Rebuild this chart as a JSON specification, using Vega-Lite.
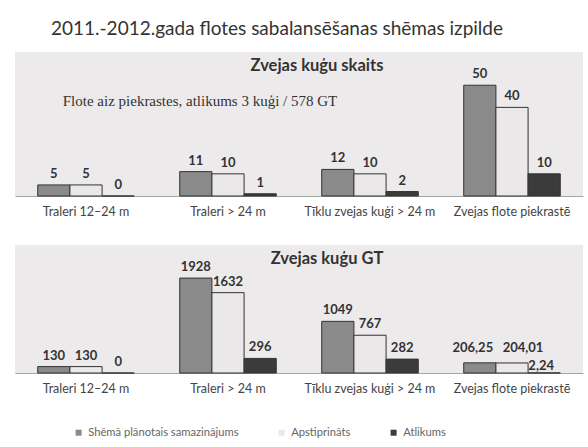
{
  "$schema": "https://vega.github.io/schema/vega-lite/v6.json",
  "background": "white",
  "padding": {"left": 15, "right": 5, "top": 20, "bottom": 5},
  "title": {"text": "2011.-2012.gada flotes sabalansēšanas shēmas izpilde", "fontSize": 19, "font": "Lato", "fontWeight": "normal", "color": "#333333", "offset": 13, "anchor": "middle", "dx": -22},
  "datasets": {
    "skaits": [
      {"cat": "Traleri 12–24 m", "series": "Shēmā plānotais samazinājums", "v": 5},
      {"cat": "Traleri 12–24 m", "series": "Apstiprināts", "v": 5},
      {"cat": "Traleri 12–24 m", "series": "Atlikums", "v": 0},
      {"cat": "Traleri > 24 m", "series": "Shēmā plānotais samazinājums", "v": 11},
      {"cat": "Traleri > 24 m", "series": "Apstiprināts", "v": 10},
      {"cat": "Traleri > 24 m", "series": "Atlikums", "v": 1},
      {"cat": "Tīklu zvejas kuģi > 24 m", "series": "Shēmā plānotais samazinājums", "v": 12},
      {"cat": "Tīklu zvejas kuģi > 24 m", "series": "Apstiprināts", "v": 10},
      {"cat": "Tīklu zvejas kuģi > 24 m", "series": "Atlikums", "v": 2},
      {"cat": "Zvejas flote piekrastē", "series": "Shēmā plānotais samazinājums", "v": 50},
      {"cat": "Zvejas flote piekrastē", "series": "Apstiprināts", "v": 40},
      {"cat": "Zvejas flote piekrastē", "series": "Atlikums", "v": 10}
    ],
    "gt": [
      {"cat": "Traleri 12–24 m", "series": "Shēmā plānotais samazinājums", "v": 130},
      {"cat": "Traleri 12–24 m", "series": "Apstiprināts", "v": 130},
      {"cat": "Traleri 12–24 m", "series": "Atlikums", "v": 0},
      {"cat": "Traleri > 24 m", "series": "Shēmā plānotais samazinājums", "v": 1928},
      {"cat": "Traleri > 24 m", "series": "Apstiprināts", "v": 1632},
      {"cat": "Traleri > 24 m", "series": "Atlikums", "v": 296},
      {"cat": "Tīklu zvejas kuģi > 24 m", "series": "Shēmā plānotais samazinājums", "v": 1049},
      {"cat": "Tīklu zvejas kuģi > 24 m", "series": "Apstiprināts", "v": 767},
      {"cat": "Tīklu zvejas kuģi > 24 m", "series": "Atlikums", "v": 282},
      {"cat": "Zvejas flote piekrastē", "series": "Shēmā plānotais samazinājums", "v": 206.25},
      {"cat": "Zvejas flote piekrastē", "series": "Apstiprināts", "v": 204.01},
      {"cat": "Zvejas flote piekrastē", "series": "Atlikums", "v": 2.24}
    ],
    "note": [
      {"cat": "Traleri > 24 m", "note": "Flote aiz piekrastes, atlikums 3 kuģi / 578 GT"}
    ]
  },
  "config": {
    "font": "Lato",
    "locale": {"number": {"decimal": ",", "thousands": " ", "grouping": [3], "currency": ["", ""]}},
    "view": {"stroke": null, "fill": "#edeaec"},
    "axis": {"labelFontSize": 12.5, "labelColor": "#444444", "ticks": false, "domainColor": "#a0a8a0", "labelPadding": 9, "labelFont": "Lato", "labelAngle": 0, "title": null, "labelLimit": 0},
    "legend": {"direction": "horizontal", "title": null, "symbolType": "square", "symbolSize": 36, "labelFontSize": 11.2, "labelColor": "#666666", "columnPadding": 37, "symbolStrokeWidth": 0, "labelFont": "Lato"}
  },
  "spacing": 27,
  "resolve": {"scale": {"color": "shared"}, "legend": {"color": "shared"}},
  "vconcat": [
    {
      "width": 568,
      "height": 144,
      "title": {"text": "Zvejas kuģu skaits", "fontSize": 16.5, "fontWeight": "bold", "color": "#333333", "offset": -22, "dx": 18, "font": "Lato"},
      "layer": [
        {
          "data": {"name": "skaits"},
          "mark": {"type": "bar", "stroke": "#333333", "strokeWidth": 1},
          "encoding": {
            "x": {"field": "cat", "type": "nominal", "sort": null, "scale": {"paddingInner": 0.32, "paddingOuter": 0.16}},
            "y": {"field": "v", "type": "quantitative", "scale": {"domain": [0, 62]}, "axis": null},
            "xOffset": {"field": "series", "sort": ["Shēmā plānotais samazinājums", "Apstiprināts", "Atlikums"], "scale": {"paddingInner": 0}},
            "color": {"field": "series", "type": "nominal", "sort": ["Shēmā plānotais samazinājums", "Apstiprināts", "Atlikums"], "scale": {"domain": ["Shēmā plānotais samazinājums", "Apstiprināts", "Atlikums"], "range": ["#8a8a8a", "#ebe8ea", "#3b3b3b"]}, "legend": {"orient": "none", "direction": "horizontal", "legendX": 58, "legendY": 375}}
          }
        },
        {
          "data": {"name": "skaits"},
          "mark": {"type": "text", "dy": -4, "baseline": "bottom", "fontWeight": "bold", "fontSize": 13, "color": "#333333"},
          "encoding": {
            "x": {"field": "cat", "type": "nominal", "sort": null},
            "y": {"field": "v", "type": "quantitative"},
            "xOffset": {"field": "series", "sort": ["Shēmā plānotais samazinājums", "Apstiprināts", "Atlikums"], "scale": {"paddingInner": 0}},
            "text": {"field": "v", "type": "quantitative", "format": "~f"}
          }
        },
        {
          "data": {"name": "note"},
          "mark": {"type": "text", "font": "Liberation Serif", "fontSize": 15, "dx": -28, "color": "#333333"},
          "encoding": {
            "x": {"field": "cat", "type": "nominal", "sort": null},
            "y": {"datum": 43, "type": "quantitative"},
            "text": {"field": "note", "type": "nominal"}
          }
        }
      ]
    },
    {
      "width": 568,
      "height": 128,
      "title": {"text": "Zvejas kuģu GT", "fontSize": 16.5, "fontWeight": "bold", "color": "#333333", "offset": -22, "dx": 28, "font": "Lato"},
      "data": {"name": "gt"},
      "layer": [
        {
          "mark": {"type": "bar", "stroke": "#333333", "strokeWidth": 1},
          "encoding": {
            "x": {"field": "cat", "type": "nominal", "sort": null, "scale": {"paddingInner": 0.32, "paddingOuter": 0.16}},
            "y": {"field": "v", "type": "quantitative", "scale": {"domain": [0, 2600]}, "axis": null},
            "xOffset": {"field": "series", "sort": ["Shēmā plānotais samazinājums", "Apstiprināts", "Atlikums"], "scale": {"paddingInner": 0}},
            "color": {"field": "series", "type": "nominal", "sort": ["Shēmā plānotais samazinājums", "Apstiprināts", "Atlikums"], "scale": {"domain": ["Shēmā plānotais samazinājums", "Apstiprināts", "Atlikums"], "range": ["#8a8a8a", "#ebe8ea", "#3b3b3b"]}, "legend": {"orient": "none", "direction": "horizontal", "legendX": 58, "legendY": 375}}
          }
        },
        {
          "transform": [{"filter": "datum.cat !== 'Zvejas flote piekrastē'"}],
          "mark": {"type": "text", "dy": -4, "baseline": "bottom", "fontWeight": "bold", "fontSize": 13, "color": "#333333"},
          "encoding": {
            "x": {"field": "cat", "type": "nominal", "sort": null},
            "y": {"field": "v", "type": "quantitative"},
            "xOffset": {"field": "series", "sort": ["Shēmā plānotais samazinājums", "Apstiprināts", "Atlikums"], "scale": {"paddingInner": 0}},
            "text": {"field": "v", "type": "quantitative", "format": "~f"}
          }
        },
        {
          "transform": [{"filter": "datum.cat === 'Zvejas flote piekrastē' && datum.series === 'Shēmā plānotais samazinājums'"}],
          "mark": {"type": "text", "dy": -8, "dx": -7, "baseline": "bottom", "fontWeight": "bold", "fontSize": 13, "color": "#333333"},
          "encoding": {
            "x": {"field": "cat", "type": "nominal", "sort": null},
            "y": {"field": "v", "type": "quantitative"},
            "xOffset": {"field": "series", "sort": ["Shēmā plānotais samazinājums", "Apstiprināts", "Atlikums"], "scale": {"paddingInner": 0}},
            "text": {"field": "v", "type": "quantitative", "format": "~f"}
          }
        },
        {
          "transform": [{"filter": "datum.cat === 'Zvejas flote piekrastē' && datum.series === 'Apstiprināts'"}],
          "mark": {"type": "text", "dy": -8, "dx": 11, "baseline": "bottom", "fontWeight": "bold", "fontSize": 13, "color": "#333333"},
          "encoding": {
            "x": {"field": "cat", "type": "nominal", "sort": null},
            "y": {"field": "v", "type": "quantitative"},
            "xOffset": {"field": "series", "sort": ["Shēmā plānotais samazinājums", "Apstiprināts", "Atlikums"], "scale": {"paddingInner": 0}},
            "text": {"field": "v", "type": "quantitative", "format": "~f"}
          }
        },
        {
          "transform": [{"filter": "datum.cat === 'Zvejas flote piekrastē' && datum.series === 'Atlikums'"}],
          "mark": {"type": "text", "dy": 0, "dx": -3, "baseline": "bottom", "fontWeight": "bold", "fontSize": 13, "color": "#333333"},
          "encoding": {
            "x": {"field": "cat", "type": "nominal", "sort": null},
            "y": {"field": "v", "type": "quantitative"},
            "xOffset": {"field": "series", "sort": ["Shēmā plānotais samazinājums", "Apstiprināts", "Atlikums"], "scale": {"paddingInner": 0}},
            "text": {"field": "v", "type": "quantitative", "format": "~f"}
          }
        }
      ]
    }
  ]
}
